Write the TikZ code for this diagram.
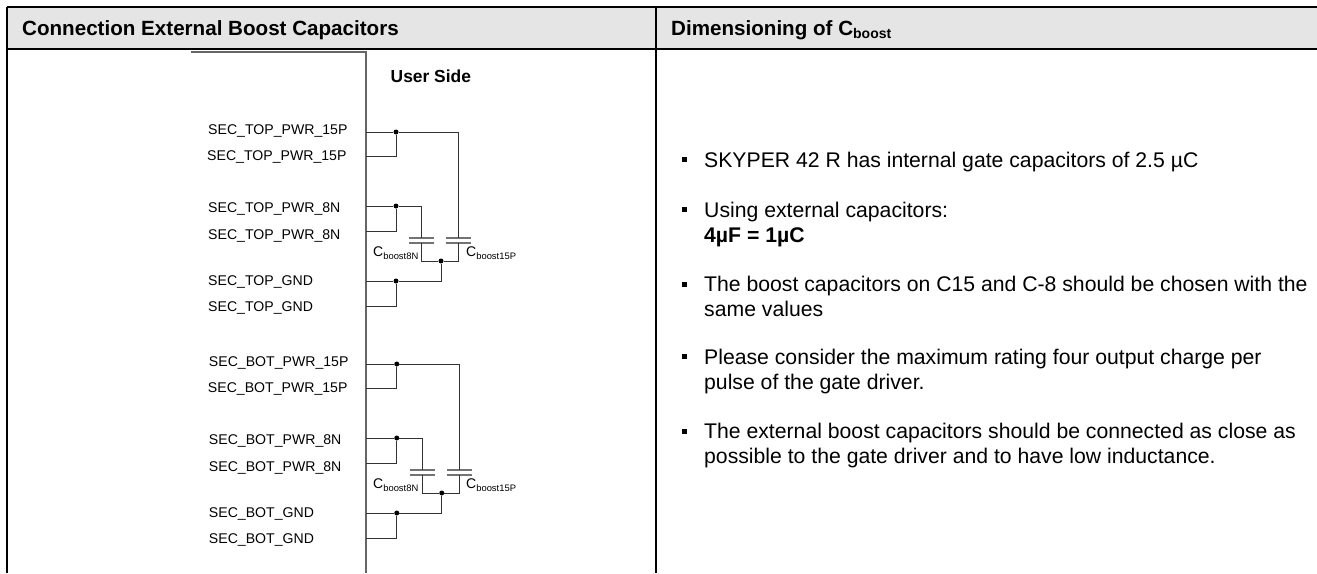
\documentclass[tikz,border=0pt]{standalone}
\usepackage{fontspec}
\setmainfont{Liberation Sans}
\usetikzlibrary{positioning, calc}

\begin{document}
\begin{tikzpicture}[
    x=1pt, y=-1pt,
    % Styles
    title/.style={
        anchor=base west,
        inner sep=0pt,
        font=\bfseries\fontsize{20.6}{24}\selectfont
    },
    pinlabel/.style={
        anchor=base west,
        inner sep=0pt,
        font=\fontsize{14.1}{16}\selectfont
    },
    caplabel/.style={
        anchor=base west,
        inner sep=0pt,
        font=\fontsize{14}{16}\selectfont
    },
    note/.style={
        anchor=base west,
        inner sep=0pt,
        align=left,
        font=\fontsize{21.2}{24.6}\selectfont
    },
    square/.style={
        fill=black,
        inner sep=0pt,
        minimum size=5pt,
        rectangle
    },
    frame/.style={
        line width=1.4pt,
        black
    },
    wire/.style={
        line width=0.9pt,
        black!80
    },
    plate/.style={
        line width=1.3pt,
        black!55
    },
    wall/.style={
        line width=1.2pt,
        black!60
    },
    joint/.style={
        circle,
        fill=black,
        inner sep=0pt,
        minimum size=5pt
    }
]
    \useasboundingbox (0,0) rectangle (1317,573);

    % Header
    \fill[black!10] (6,7) rectangle (1317,49);
    \coordinate (headTL) at (7,7);
    \coordinate (headTR) at (1317,7);
    \coordinate (headBL) at (7,49);
    \coordinate (headBR) at (1317,49);
    \coordinate (sepT) at (656,7);
    \coordinate (sepB) at (656,573);
    \coordinate (leftB) at (7,573);
    \draw[frame] (headTL) -- (leftB);
    \draw[frame] (sepT) -- (sepB);
    \draw[frame, line width=1.8pt] (headTL) -- (headTR);
    \draw[frame, line width=1.8pt] (headBL) -- (headBR);
    \node[title] (leftTitle) at (22,35) {Connection External Boost Capacitors};
    \node[title] (rightTitle) at (671,35) {Dimensioning of C\raisebox{-3pt}{\fontsize{14}{16}\selectfont boost}};

    % Chip outline
    \coordinate (chipA) at (191,52);
    \coordinate (chipB) at (366,52);
    \coordinate (chipC) at (366,573);
    \draw[wall] (chipA) -- (chipB) -- (chipC);
    \node[title, font=\bfseries\fontsize{17.4}{20}\selectfont] (userSide) at (390.5,82.5) {User Side};

    % Both channels
    \foreach \grp/\txt/\dx/\dy in {top/TOP/0/0, bot/BOT/1.5/232} {
        % Pins
        \foreach \nm/\lbl/\py/\by/\lx in {a/PWR\_15P/132/134/208, b/PWR\_15P/156/160/207, c/PWR\_8N/206/212.5/208, d/PWR\_8N/231/239.5/208, e/GND/281/285.5/208, f/GND/306/311.5/208} {
            \node[pinlabel] (\grp\nm) at (\lx+\dx/2,\by+\dy) {SEC\_\txt\_\lbl};
            \coordinate (\grp\nm pin) at (366,\py+\dy);
        }

        % Joints
        \node[joint] (\grp J1) at (396+\dx/2,132+\dy) {};
        \node[joint] (\grp J2) at (396+\dx/2,206+\dy) {};
        \node[joint] (\grp J3) at (396+\dx/2,281+\dy) {};
        \node[joint] (\grp J4) at (441+\dx/2,261+\dy) {};

        % Capacitors
        \coordinate (\grp C8a) at (421+\dx,238+\dy);
        \coordinate (\grp C8b) at (421+\dx,243+\dy);
        \coordinate (\grp C15a) at (458+\dx,238+\dy);
        \coordinate (\grp C15b) at (458+\dx,243+\dy);
        \foreach \c in {C8a, C8b, C15a, C15b} {
            \draw[plate] ($(\grp\c)+(-12.5,0)$) -- ($(\grp\c)+(12.5,0)$);
        }
        \node[caplabel] (\grp L8) at (373,256.5+\dy) {C\raisebox{-3pt}{\fontsize{9.4}{10}\selectfont boost8N}};
        \node[caplabel] (\grp L15) at (466,256.5+\dy) {C\raisebox{-3pt}{\fontsize{9.4}{10}\selectfont boost15P}};

        % Connections
        \draw[wire] (\grp apin) -- (\grp J1) -| (\grp C15a);
        \draw[wire] (\grp bpin) -| (\grp J1);
        \draw[wire] (\grp cpin) -- (\grp J2) -| (\grp C8a);
        \draw[wire] (\grp dpin) -| (\grp J2);
        \draw[wire] (\grp epin) -- (\grp J3) -| (\grp J4);
        \draw[wire] (\grp fpin) -| (\grp J3);
        \draw[wire] (\grp C8b) |- (\grp J4);
        \draw[wire] (\grp C15b) |- (\grp J4);
    }

    % Bullet text
    \node[note] (noteA) at (704,167.5) {SKYPER 42 R has internal gate capacitors of 2.5 µC};
    \node[note] (noteB) at (704,242) {Using external capacitors:\\\textbf{4µF = 1µC}};
    \node[note] (noteC) at (704,316.5) {The boost capacitors on C15 and C-8 should be chosen with the\\same values};
    \node[note] (noteD) at (704,389) {Please consider the maximum rating four output charge per\\pulse of the gate driver.};
    \node[note] (noteE) at (704,463.5) {The external boost capacitors should be connected as close as\\possible to the gate driver and to have low inductance.};

    % Bullets
    \foreach \n/\y in {A/159.5, B/209.5, C/284, D/356.5, E/431} {
        \node[square] (dot\n) at (684.5,\y) {};
    }
\end{tikzpicture}
\end{document}
